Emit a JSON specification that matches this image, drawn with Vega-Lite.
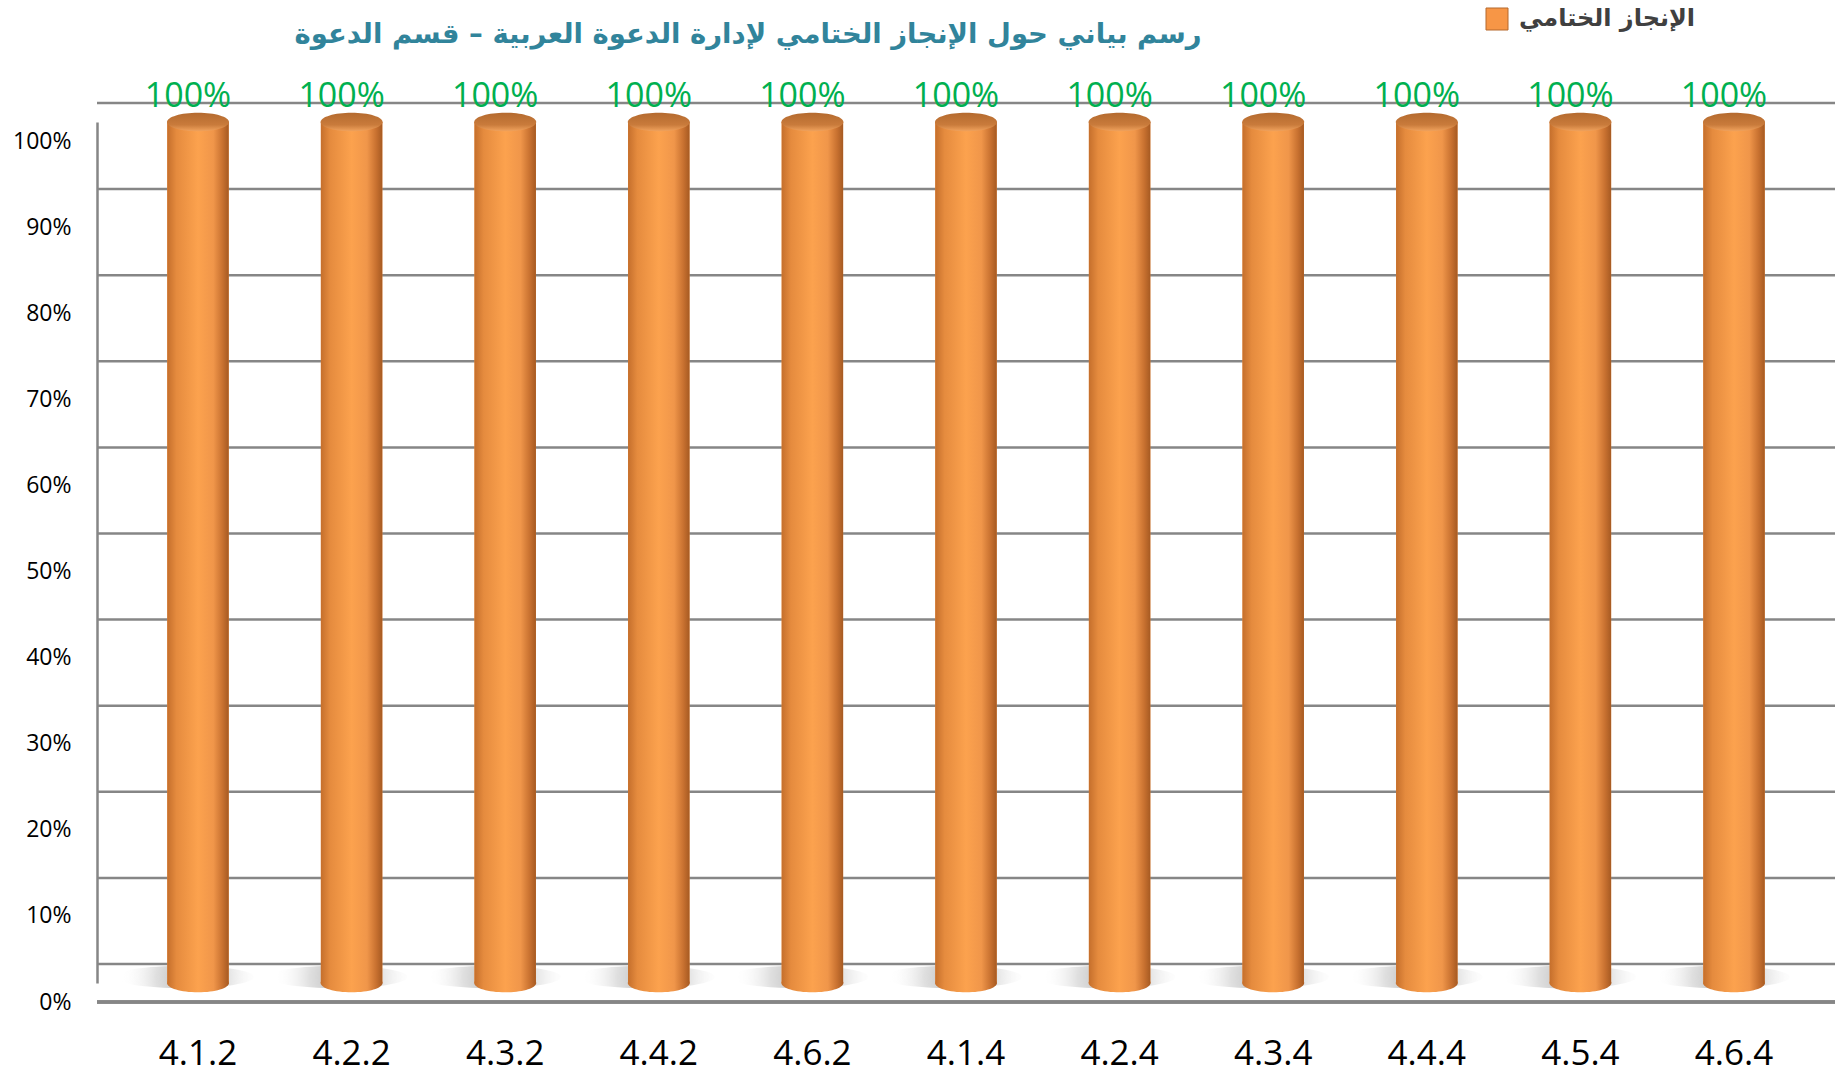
{
  "$schema": "https://vega.github.io/schema/vega-lite/v6.json",
  "autosize": "none",
  "width": 1738,
  "height": 861,
  "padding": {"left": 97, "top": 122, "right": 12, "bottom": 92},
  "background": "white",
  "config": {"view": {"stroke": null}},
  "title": {
    "text": "رسم بياني حول الإنجاز الختامي لإدارة الدعوة العربية – قسم الدعوة",
    "font": "DejaVu Sans",
    "fontWeight": "bold",
    "fontSize": 27.5,
    "color": "#31849B",
    "anchor": "middle",
    "frame": "group",
    "dx": -218,
    "baseline": "bottom",
    "offset": 0,
    "dy": 69
  },
  "datasets": {
    "main": [
      {"code": "4.1.2", "value": 1},
      {"code": "4.2.2", "value": 1},
      {"code": "4.3.2", "value": 1},
      {"code": "4.4.2", "value": 1},
      {"code": "4.6.2", "value": 1},
      {"code": "4.1.4", "value": 1},
      {"code": "4.2.4", "value": 1},
      {"code": "4.3.4", "value": 1},
      {"code": "4.4.4", "value": 1},
      {"code": "4.5.4", "value": 1},
      {"code": "4.6.4", "value": 1}
    ],
    "ticks": [
      {"t": 0}, {"t": 0.1}, {"t": 0.2}, {"t": 0.3}, {"t": 0.4}, {"t": 0.5},
      {"t": 0.6}, {"t": 0.7}, {"t": 0.8}, {"t": 0.9}, {"t": 1}
    ]
  },
  "encoding": {
    "x": {
      "field": "code",
      "type": "nominal",
      "sort": null,
      "scale": {"paddingInner": 0.6, "paddingOuter": 0.4575},
      "axis": {
        "title": null,
        "labelAngle": 0,
        "labelFont": "Open Sans",
        "labelFontSize": 35,
        "labelColor": "#000000",
        "labelPadding": 53,
        "ticks": false,
        "domain": false,
        "grid": false
      }
    }
  },
  "layer": [
    {
      "data": {"name": "ticks"},
      "mark": {"type": "rule", "color": "#868686", "strokeWidth": 2.5, "yOffset": -19},
      "encoding": {
        "x": null,
        "y": {
          "field": "t",
          "type": "quantitative",
          "scale": {"domain": [0, 1], "nice": false},
          "axis": {
            "title": null,
            "format": ".0%",
            "values": [0, 0.1, 0.2, 0.3, 0.4, 0.5, 0.6, 0.7, 0.8, 0.9, 1],
            "labelFont": "Open Sans",
            "labelFontSize": 23,
            "labelColor": "#000000",
            "labelPadding": 26,
            "labelOffset": 19,
            "ticks": false,
            "domain": true,
            "domainColor": "#868686",
            "domainWidth": 2.5,
            "grid": false
          }
        }
      }
    },
    {
      "data": {"name": "main"},
      "mark": {"type": "rule", "color": "#868686", "strokeWidth": 2.5, "yOffset": 19},
      "encoding": {"x": null, "y": {"datum": 0, "type": "quantitative"}}
    },
    {
      "data": {"name": "main"},
      "mark": {
        "type": "point",
        "shape": "M-1,0A1,0.16,0,1,0,1,0A1,0.16,0,1,0,-1,0Z",
        "size": 19600,
        "filled": true,
        "opacity": 1,
        "strokeWidth": 0,
        "xOffset": -14,
        "yOffset": -6,
        "fill": {
          "gradient": "radial", "x1": 0.55, "y1": 0.5, "r1": 0, "x2": 0.55, "y2": 0.5, "r2": 0.5,
          "stops": [
            {"offset": 0, "color": "rgba(110,110,110,0.55)"},
            {"offset": 0.5, "color": "rgba(150,150,150,0.3)"},
            {"offset": 1, "color": "rgba(255,255,255,0)"}
          ]
        }
      },
      "encoding": {"y": {"datum": 0, "type": "quantitative"}}
    },
    {
      "data": {"name": "main"},
      "mark": {
        "type": "point",
        "shape": "M-1,0A1,0.3,0,1,0,1,0A1,0.3,0,1,0,-1,0Z",
        "size": 3844,
        "filled": true,
        "opacity": 1,
        "strokeWidth": 0,
        "fill": {
          "gradient": "linear", "x1": 0, "x2": 1, "y1": 0, "y2": 0,
          "stops": [
            {"offset": 0, "color": "#C56F2C"},
            {"offset": 0.15, "color": "#E58B3E"},
            {"offset": 0.5, "color": "#FCA24E"},
            {"offset": 0.75, "color": "#F0964A"},
            {"offset": 0.9, "color": "#C87130"},
            {"offset": 1, "color": "#A65A22"}
          ]
        }
      },
      "encoding": {"y": {"datum": 0, "type": "quantitative"}}
    },
    {
      "data": {"name": "main"},
      "mark": {"type": "bar"},
      "encoding": {
        "y": {"field": "value", "type": "quantitative"},
        "color": {
          "datum": "الإنجاز الختامي",
          "type": "nominal",
          "scale": {"range": ["#F79646"]},
          "legend": {
            "title": null,
            "orient": "none",
            "legendX": 1388,
            "legendY": -115,
            "padding": 0,
            "symbolType": "square",
            "symbolSize": 484,
            "symbolStrokeColor": "#B5692C",
            "symbolStrokeWidth": 1,
            "labelFont": "DejaVu Sans",
            "labelFontWeight": "bold",
            "labelFontSize": 24,
            "labelColor": "#404040",
            "labelOffset": 10,
            "labelLimit": 0
          }
        }
      }
    },
    {
      "data": {"name": "main"},
      "mark": {
        "type": "bar",
        "fill": {
          "gradient": "linear", "x1": 0, "x2": 1, "y1": 0, "y2": 0,
          "stops": [
            {"offset": 0, "color": "#C56F2C"},
            {"offset": 0.15, "color": "#E58B3E"},
            {"offset": 0.5, "color": "#FCA24E"},
            {"offset": 0.75, "color": "#F0964A"},
            {"offset": 0.9, "color": "#C87130"},
            {"offset": 1, "color": "#A65A22"}
          ]
        }
      },
      "encoding": {"y": {"field": "value", "type": "quantitative"}}
    },
    {
      "data": {"name": "main"},
      "mark": {
        "type": "point",
        "shape": "M-1,0A1,0.3,0,1,0,1,0A1,0.3,0,1,0,-1,0Z",
        "size": 3844,
        "filled": true,
        "opacity": 1,
        "strokeWidth": 0,
        "fill": {
          "gradient": "linear", "x1": 0, "x2": 0, "y1": 0, "y2": 1,
          "stops": [
            {"offset": 0, "color": "#B46A2F"},
            {"offset": 0.65, "color": "#C97B3B"},
            {"offset": 1, "color": "#F1A35E"}
          ]
        }
      },
      "encoding": {"y": {"field": "value", "type": "quantitative"}}
    },
    {
      "data": {"name": "main"},
      "mark": {
        "type": "text",
        "font": "Open Sans",
        "fontSize": 34,
        "color": "#00B050",
        "baseline": "middle",
        "dy": -25,
        "dx": -10
      },
      "encoding": {
        "y": {"field": "value", "type": "quantitative"},
        "text": {"field": "value", "type": "quantitative", "format": ".0%"}
      }
    }
  ]
}
